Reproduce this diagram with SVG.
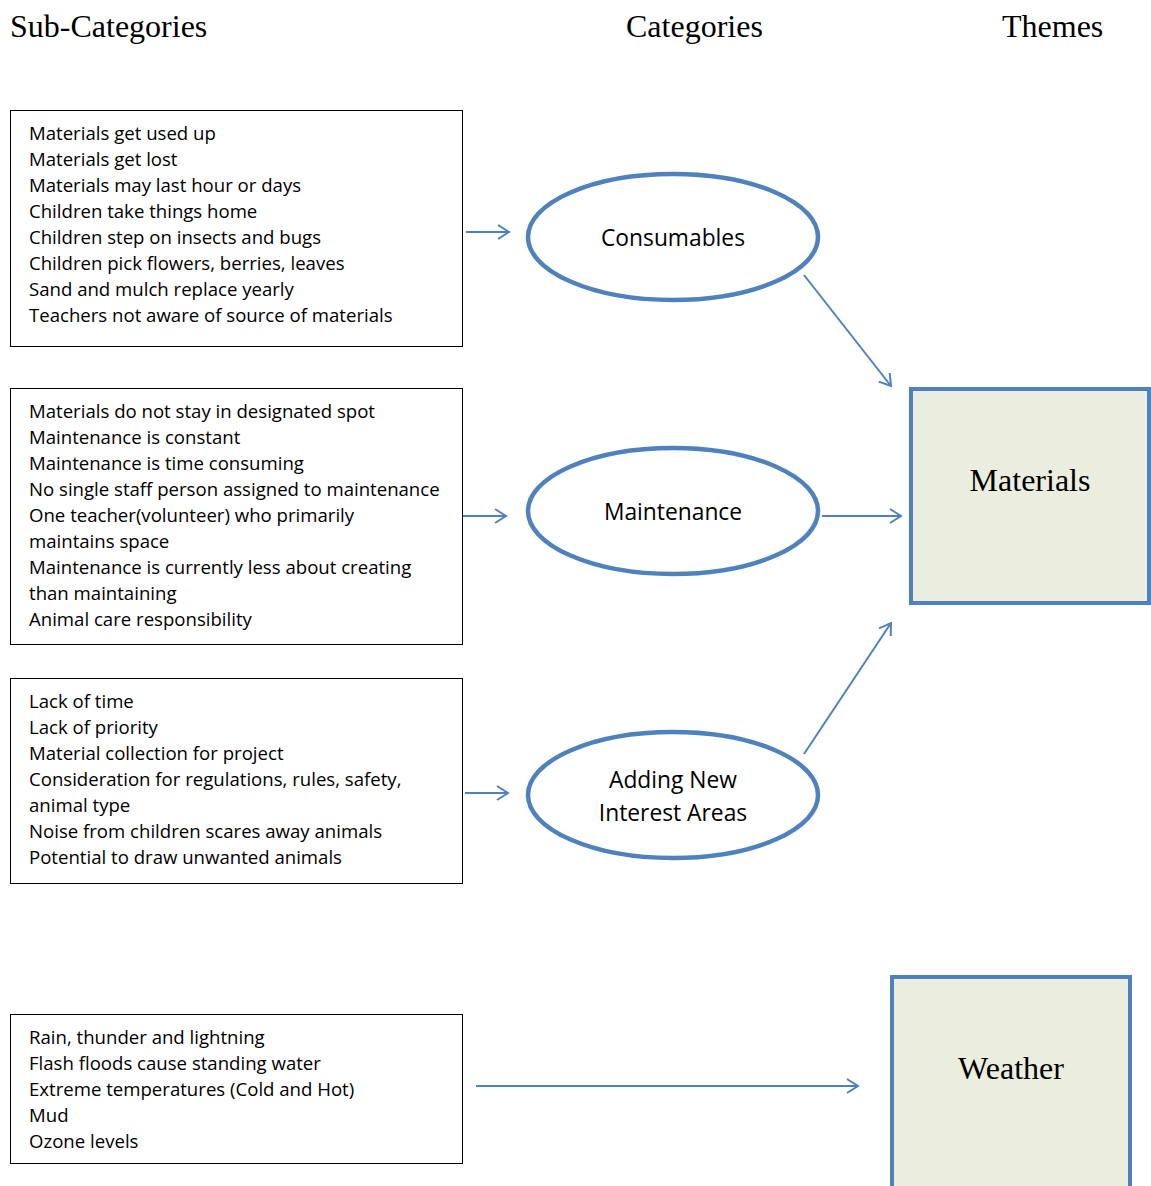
<svg xmlns="http://www.w3.org/2000/svg" width="1151" height="1186" viewBox="0 0 1151 1186">
<style>
.hdr{font-family:"Liberation Serif",serif;font-size:32px;fill:#000}
.box{fill:#fff;stroke:#000;stroke-width:1}
.bt{font-family:"Open Sans",sans-serif;font-size:18.6px;fill:#000}
.ell{fill:#fff;stroke:#4f81bd;stroke-width:4.5}
.et{font-family:"Open Sans",sans-serif;font-size:22.8px;fill:#000;text-anchor:middle}
.theme{fill:#ebeedf;stroke:#4f81bd;stroke-width:4}
.tt{font-family:"Liberation Serif",serif;font-size:32px;fill:#000;text-anchor:middle}
.con{stroke:#4f81bd;stroke-width:2;fill:none;marker-end:url(#ah)}
</style>
<defs>
<marker id="ah" markerWidth="16" markerHeight="16" refX="13" refY="8" orient="auto" markerUnits="userSpaceOnUse">
<path d="M2,1 L13,8 L2,15" fill="none" stroke="#4f81bd" stroke-width="2"/>
</marker>
</defs>
<text class="hdr" x="10" y="37">Sub-Categories</text>
<text class="hdr" x="626" y="37">Categories</text>
<text class="hdr" x="1002" y="37">Themes</text>

<g id="sub1">
<rect class="box" x="10.5" y="110.5" width="452" height="236"/>
<text class="bt"><tspan x="29" y="140">Materials get used up</tspan><tspan x="29" y="166">Materials get lost</tspan><tspan x="29" y="192">Materials may last hour or days</tspan><tspan x="29" y="218">Children take things home</tspan><tspan x="29" y="244">Children step on insects and bugs</tspan><tspan x="29" y="270">Children pick flowers, berries, leaves</tspan><tspan x="29" y="296">Sand and mulch replace yearly</tspan><tspan x="29" y="322">Teachers not aware of source of materials</tspan></text>
</g>
<g id="sub2">
<rect class="box" x="10.5" y="388.5" width="452" height="256"/>
<text class="bt"><tspan x="29" y="418">Materials do not stay in designated spot</tspan><tspan x="29" y="444">Maintenance is constant</tspan><tspan x="29" y="470">Maintenance is time consuming</tspan><tspan x="29" y="496">No single staff person assigned to maintenance</tspan><tspan x="29" y="522">One teacher(volunteer) who primarily</tspan><tspan x="29" y="548">maintains space</tspan><tspan x="29" y="574">Maintenance is currently less about creating</tspan><tspan x="29" y="600">than maintaining</tspan><tspan x="29" y="626">Animal care responsibility</tspan></text>
</g>
<g id="sub3">
<rect class="box" x="10.5" y="678.5" width="452" height="205"/>
<text class="bt"><tspan x="29" y="708">Lack of time</tspan><tspan x="29" y="734">Lack of priority</tspan><tspan x="29" y="760">Material collection for project</tspan><tspan x="29" y="786">Consideration for regulations, rules, safety,</tspan><tspan x="29" y="812">animal type</tspan><tspan x="29" y="838">Noise from children scares away animals</tspan><tspan x="29" y="864">Potential to draw unwanted animals</tspan></text>
</g>
<g id="sub4">
<rect class="box" x="10.5" y="1014.5" width="452" height="149"/>
<text class="bt"><tspan x="29" y="1044">Rain, thunder and lightning</tspan><tspan x="29" y="1070">Flash floods cause standing water</tspan><tspan x="29" y="1096">Extreme temperatures (Cold and Hot)</tspan><tspan x="29" y="1122">Mud</tspan><tspan x="29" y="1148">Ozone levels</tspan></text>
</g>

<g id="consumables">
<ellipse class="ell" cx="673" cy="237" rx="145" ry="63"/>
<text class="et" x="673" y="246">Consumables</text>
</g>
<g id="maintenance">
<ellipse class="ell" cx="673" cy="511" rx="145" ry="63"/>
<text class="et" x="673" y="520">Maintenance</text>
</g>
<g id="adding">
<ellipse class="ell" cx="673" cy="795" rx="145" ry="63"/>
<text class="et" x="673" y="788">Adding New</text>
<text class="et" x="673" y="821">Interest Areas</text>
</g>

<g id="materials">
<rect class="theme" x="911" y="389" width="238" height="214"/>
<text class="tt" x="1030" y="491">Materials</text>
</g>
<g id="weather">
<rect class="theme" x="892" y="977" width="238" height="220"/>
<text class="tt" x="1011" y="1079">Weather</text>
</g>

<g id="connectors">
<line class="con" x1="466" y1="232" x2="509" y2="232"/>
<line class="con" x1="463" y1="516" x2="506" y2="516"/>
<line class="con" x1="465" y1="793" x2="508" y2="793"/>
<line class="con" x1="804" y1="275" x2="891" y2="386"/>
<line class="con" x1="822" y1="516" x2="901" y2="516"/>
<line class="con" x1="804" y1="754" x2="891" y2="623"/>
<line class="con" x1="476" y1="1086" x2="858" y2="1086"/>
</g>
</svg>
